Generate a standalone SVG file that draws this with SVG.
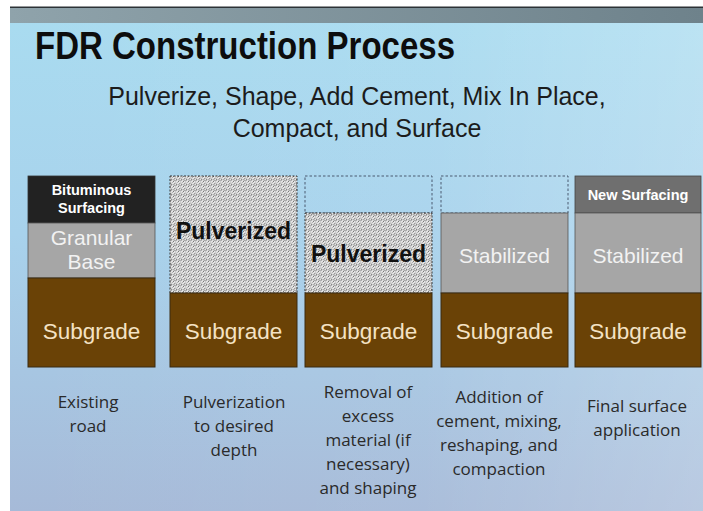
<svg xmlns="http://www.w3.org/2000/svg" width="703" height="511" viewBox="0 0 703 511">
  <defs>
    <linearGradient id="bodyV" x1="0" y1="0" x2="0" y2="1">
      <stop offset="0" stop-color="#a9dcf0"/>
      <stop offset="0.45" stop-color="#a8d2ec"/>
      <stop offset="1" stop-color="#a6bad8"/>
    </linearGradient>
    <linearGradient id="bodyH" x1="0" y1="0" x2="1" y2="0">
      <stop offset="0" stop-color="#ffffff" stop-opacity="0"/>
      <stop offset="0.6" stop-color="#ffffff" stop-opacity="0.05"/>
      <stop offset="1" stop-color="#ffffff" stop-opacity="0.22"/>
    </linearGradient>
    <linearGradient id="band" x1="0" y1="0" x2="1" y2="0">
      <stop offset="0" stop-color="#8fa3ab"/>
      <stop offset="1" stop-color="#6e828b"/>
    </linearGradient>
    <!-- gravel texture for pulverized material -->
    <pattern id="gravel" width="5" height="5" patternUnits="userSpaceOnUse">
      <rect width="5" height="5" fill="#e4e4e4"/>
      <path d="M0 1.5 L1.5 0 M2.5 2.5 L4 1 M1 4 L2.5 5 M3.5 4.5 L5 3.5" stroke="#6a6a6a" stroke-width="0.9" fill="none"/>
      <circle cx="4.2" cy="0.6" r="0.5" fill="#777"/>
      <circle cx="0.8" cy="3" r="0.5" fill="#777"/>
    </pattern>
  </defs>
  <style>
    .sub { fill: #6a4206; stroke: #3a2a10; stroke-width: 1; }
    .subT { font-family: "Liberation Sans", Arial, sans-serif; font-size: 22.5px; fill: #f4e2c4; text-anchor: middle; }
    .gray { fill: #a6a6a6; stroke: #555; stroke-width: 0.8; }
    .grayT { font-family: "Liberation Sans", Arial, sans-serif; font-size: 21px; fill: #f2f2f2; text-anchor: middle; }
    .pulv { fill: url(#gravel); stroke: #333; stroke-width: 1; stroke-dasharray: 2 1.5; }
    .pulvT { font-family: "Liberation Sans", Arial, sans-serif; font-weight: bold; font-size: 23px; fill: #111; text-anchor: middle; }
    .empty { fill: none; stroke: #4a5a70; stroke-width: 1; stroke-dasharray: 2.5 2; }
    .topT { font-family: "Liberation Sans", Arial, sans-serif; font-weight: bold; font-size: 14.5px; fill: #ffffff; text-anchor: middle; }
    .cap { font-family: "Open Sans", "Liberation Sans", sans-serif; font-size: 17px; fill: #2a2a2a; text-anchor: middle; }
  </style>

  <!-- page margin and slide background -->
  <rect width="703" height="511" fill="#ffffff"/>
  <rect x="10" y="7" width="693" height="504" fill="url(#bodyV)"/>
  <rect x="10" y="7" width="693" height="504" fill="url(#bodyH)"/>
  <rect x="10" y="7" width="693" height="16" fill="url(#band)"/>
  <rect x="10" y="6.5" width="693" height="1.5" fill="#2c3236"/>

  <!-- heading -->
  <text x="35" y="59" font-family="Liberation Sans, Arial, sans-serif" font-weight="bold" font-size="38" fill="#0d0d0d" textLength="420" lengthAdjust="spacingAndGlyphs">FDR Construction Process</text>
  <g font-family="Liberation Sans, Arial, sans-serif" font-size="25" fill="#1c1c1c" text-anchor="middle">
    <text x="357" y="105">Pulverize, Shape, Add Cement, Mix In Place,</text>
    <text x="357" y="137">Compact, and Surface</text>
  </g>

  <!-- stage 1: existing road -->
  <g id="stage-existing">
    <rect x="28" y="176" width="127" height="47" fill="#222222" stroke="#333" stroke-width="0.8"/>
    <text class="topT" x="91.5" y="195">Bituminous</text>
    <text class="topT" x="91.5" y="213">Surfacing</text>
    <rect class="gray" x="28" y="223" width="127" height="55"/>
    <text class="grayT" x="91.5" y="245">Granular</text>
    <text class="grayT" x="91.5" y="269">Base</text>
    <rect class="sub" x="28" y="278" width="127" height="89"/>
    <text class="subT" x="91.5" y="339">Subgrade</text>
    <text class="cap" x="88" y="408">Existing</text>
    <text class="cap" x="88" y="432">road</text>
  </g>

  <!-- stage 2: pulverization -->
  <g id="stage-pulverize">
    <rect class="pulv" x="170" y="176" width="127" height="117"/>
    <text class="pulvT" x="233.5" y="239">Pulverized</text>
    <rect class="sub" x="170" y="293" width="127" height="74"/>
    <text class="subT" x="233.5" y="339">Subgrade</text>
    <text class="cap" x="234" y="408">Pulverization</text>
    <text class="cap" x="234" y="432">to desired</text>
    <text class="cap" x="234" y="456">depth</text>
  </g>

  <!-- stage 3: removal and shaping -->
  <g id="stage-shaping">
    <rect class="empty" x="305" y="176" width="127" height="37"/>
    <rect class="pulv" x="305" y="213" width="127" height="80"/>
    <text class="pulvT" x="368.5" y="262">Pulverized</text>
    <rect class="sub" x="305" y="293" width="127" height="74"/>
    <text class="subT" x="368.5" y="339">Subgrade</text>
    <text class="cap" x="368" y="398">Removal of</text>
    <text class="cap" x="368" y="422">excess</text>
    <text class="cap" x="368" y="446">material (if</text>
    <text class="cap" x="368" y="470">necessary)</text>
    <text class="cap" x="368" y="494">and shaping</text>
  </g>

  <!-- stage 4: cement, mixing, compaction -->
  <g id="stage-stabilize">
    <rect class="empty" x="441" y="176" width="127" height="37"/>
    <rect class="gray" x="441" y="213" width="127" height="80"/>
    <text class="grayT" x="504.5" y="263">Stabilized</text>
    <rect class="sub" x="441" y="293" width="127" height="74"/>
    <text class="subT" x="504.5" y="339">Subgrade</text>
    <text class="cap" x="499" y="403">Addition of</text>
    <text class="cap" x="499" y="427">cement, mixing,</text>
    <text class="cap" x="499" y="451">reshaping, and</text>
    <text class="cap" x="499" y="475">compaction</text>
  </g>

  <!-- stage 5: final surface -->
  <g id="stage-surface">
    <rect x="575" y="176" width="126" height="37" fill="#6f6f6f" stroke="#444" stroke-width="0.8"/>
    <text class="topT" x="638" y="200">New Surfacing</text>
    <rect class="gray" x="575" y="213" width="126" height="80"/>
    <text class="grayT" x="638" y="263">Stabilized</text>
    <rect class="sub" x="575" y="293" width="126" height="74"/>
    <text class="subT" x="638" y="339">Subgrade</text>
    <text class="cap" x="637" y="412">Final surface</text>
    <text class="cap" x="637" y="436">application</text>
  </g>

  <!-- no connectors in this figure -->
  <g id="connectors"/>
</svg>
